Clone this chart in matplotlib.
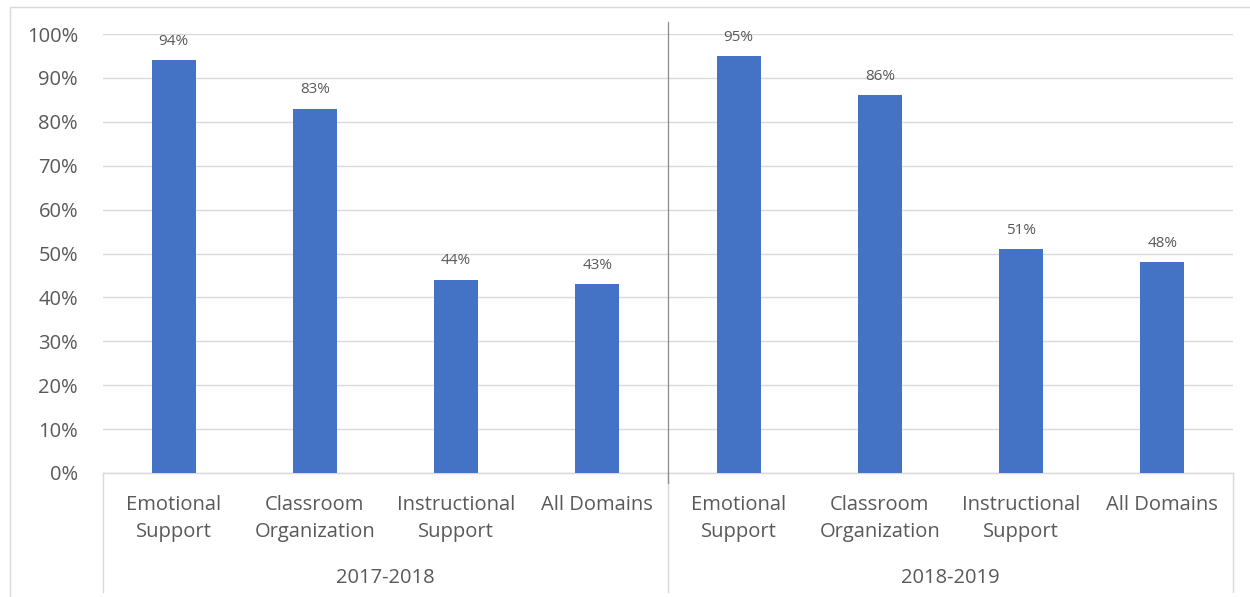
import matplotlib.pyplot as plt
from matplotlib.patches import Rectangle
from matplotlib.lines import Line2D

plt.rcParams['font.family'] = ['Open Sans', 'DejaVu Sans']

groups = ["2017-2018", "2018-2019"]
categories = ["Emotional\nSupport", "Classroom\nOrganization", "Instructional\nSupport", "All Domains"]
values_2017 = [94, 83, 44, 43]
values_2018 = [95, 86, 51, 48]
yticks = [0, 10, 20, 30, 40, 50, 60, 70, 80, 90, 100]

bar_color = '#4472C4'
text_color = '#595959'
grid_color = '#D9D9D9'

W, H = 1250, 597
fig = plt.figure(figsize=(W/100, H/100), dpi=100)
ax = fig.add_axes([103/W, 1 - 473/H, 1130/W, 439/H])

values = values_2017 + values_2018
labels = categories * len(groups)
x = list(range(len(values)))

ax.bar(x, values, width=0.31, color=bar_color, zorder=3)
for xi, v in zip(x, values):
    ax.text(xi, v + 2.6, "{}%".format(v), ha='center', va='bottom', fontsize=11, color=text_color)

ax.set_xlim(-0.5, len(values) - 0.5)
ax.set_ylim(0, 100)
ax.set_yticks(yticks)
ax.set_yticklabels(["{}%".format(t) for t in yticks], fontsize=14.5, color=text_color)
ax.tick_params(axis='y', length=0, pad=18)
ax.yaxis.grid(True, color=grid_color, linewidth=1, zorder=0)
ax.set_axisbelow(True)

ax.set_xticks(x)
ax.set_xticklabels(labels, fontsize=14.5, color=text_color, linespacing=1.45)
ax.tick_params(axis='x', length=0, pad=16)

for s in ['top', 'left', 'right']:
    ax.spines[s].set_visible(False)
ax.spines['bottom'].set_color(grid_color)
ax.spines['bottom'].set_linewidth(1)

# group labels and separators below the axis
n = len(categories)
for gi, g in enumerate(groups):
    cx = gi * n + (n - 1) / 2
    ax.text(cx, -23.9, g, ha='center', va='center', fontsize=14.5, color=text_color,
            transform=ax.transData, clip_on=False)
for b in [-0.5, n - 0.5, 2 * n - 0.5]:
    ax.add_line(Line2D([b, b], [0, -27], color=grid_color, linewidth=1, clip_on=False))

# dividing line between the two years inside the plot
ax.add_line(Line2D([n - 0.5, n - 0.5], [0, 102.8], color='#8C8C8C', linewidth=0.9,
                   clip_on=False, zorder=4))
ax.add_line(Line2D([n - 0.5, n - 0.5], [0, -2.3], color='#8C8C8C', linewidth=0.9,
                   clip_on=False, zorder=4))

# outer chart frame
fig.add_artist(Rectangle((10/W, -0.01), 1.02, 1 - 7/H + 0.01, transform=fig.transFigure,
                         fill=False, edgecolor=grid_color, linewidth=1))

fig.savefig("out.png", dpi=100)
